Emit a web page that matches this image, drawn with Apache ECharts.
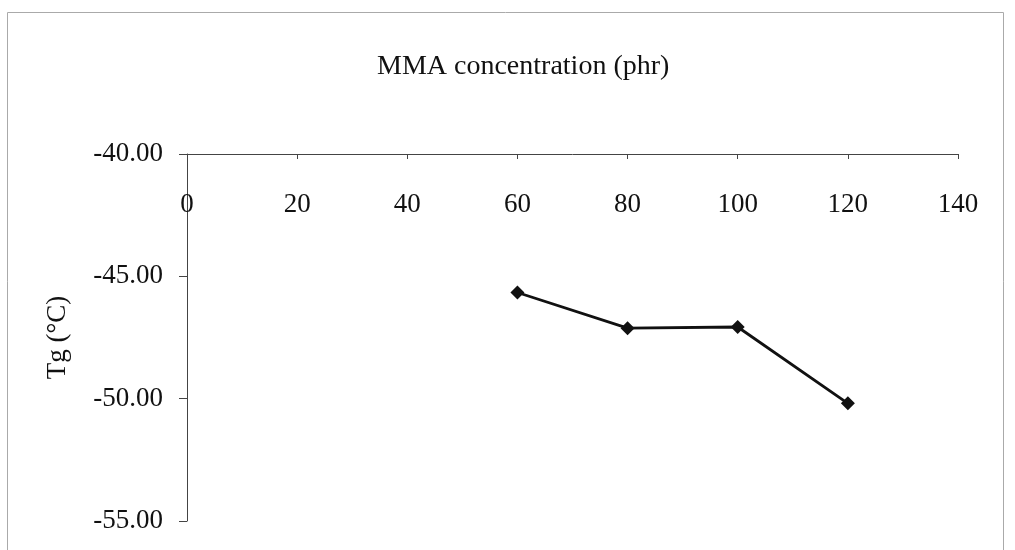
<!DOCTYPE html>
<html>
<head>
<meta charset="utf-8">
<script src="https://cdn.jsdelivr.net/npm/echarts@6/dist/echarts.min.js"></script>
<style>
  html, body { margin: 0; padding: 0; background: #fff; }
  #chart { width: 1015px; height: 550px; }
</style>
</head>
<body>
<div id="chart"></div>
<script>
// MMA concentration (phr) vs glass transition temperature
const mmaPhr = [60, 80, 100, 120];
const tgValues = [-45.66, -47.12, -47.07, -50.19];
const xTicks = [0, 20, 40, 60, 80, 100, 120, 140];
const yTicks = [-40, -45, -50, -55];

const serif = '"Liberation Serif", "DejaVu Serif", serif';
const points = mmaPhr.map((x, i) => [x, tgValues[i]]);

const chart = echarts.init(document.getElementById('chart'));
chart.setOption({
  backgroundColor: '#fff',
  animation: false,
  title: {
    text: 'MMA concentration (phr)',
    left: 372,
    top: 48,
    textStyle: { fontFamily: serif, fontSize: 28, fontWeight: 'normal', color: '#111' }
  },
  graphic: [{
    type: 'rect',
    shape: { x: 7.5, y: 12.5, width: 996, height: 560 },
    style: { fill: 'none', stroke: '#aaa', lineWidth: 1 },
    silent: true
  }],
  grid: { left: 187, right: 57, top: 154, bottom: 29, containLabel: false },
  xAxis: {
    type: 'value',
    position: 'top',
    min: xTicks[0],
    max: xTicks[xTicks.length - 1],
    interval: 20,
    axisLine: { show: true, onZero: false, lineStyle: { color: '#444', width: 1 } },
    axisTick: { show: true, inside: true, length: 5, lineStyle: { color: '#444' } },
    axisLabel: {
      inside: true,
      margin: 37,
      fontFamily: serif,
      fontSize: 27,
      color: '#111'
    },
    splitLine: { show: false }
  },
  yAxis: {
    type: 'value',
    min: yTicks[yTicks.length - 1],
    max: yTicks[0],
    interval: 5,
    name: 'Tg (°C)',
    nameLocation: 'middle',
    nameGap: 116,
    nameTextStyle: { fontFamily: serif, fontSize: 27, color: '#111' },
    axisLine: { show: true, lineStyle: { color: '#444', width: 1 } },
    axisTick: { show: true, inside: false, length: 8, lineStyle: { color: '#444' } },
    axisLabel: {
      margin: 24,
      fontFamily: serif,
      fontSize: 27,
      color: '#111',
      formatter: v => v.toFixed(2)
    },
    splitLine: { show: false }
  },
  series: [{
    type: 'line',
    data: points,
    symbol: 'diamond',
    symbolSize: 14,
    itemStyle: { color: '#111' },
    lineStyle: { color: '#111', width: 2.8 }
  }]
});
</script>
</body>
</html>
